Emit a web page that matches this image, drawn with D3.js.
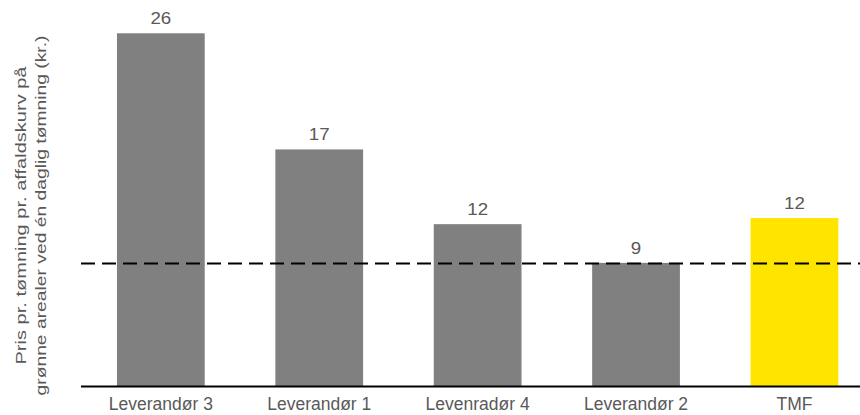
<!DOCTYPE html>
<html>
<head>
<meta charset="utf-8">
<script src="https://cdn.jsdelivr.net/npm/d3@7"></script>
<style>
  html, body { margin: 0; padding: 0; background: #fff; }
  svg { display: block; font-family: "Liberation Sans", Arial, sans-serif; }
</style>
</head>
<body>
<svg id="chart" width="860" height="415"></svg>
<script>
// ---- data ----
const categories = ["Leverandør 3", "Leverandør 1", "Levenradør 4", "Leverandør 2", "TMF"];
const values = [26, 17.45, 11.95, 9.1, 12.4];
const highlight = ["TMF"];
const benchmark = 9.05;
const yTitleLines = ["Pris pr. tømning pr. affaldskurv på", "grønne arealer ved én daglig tømning (kr.)"];

// ---- layout ----
const W = 860, H = 415;
const baseY = 386.5;
const left = 81;
const svg = d3.select("#chart");

const x = d3.scaleBand()
  .domain(categories)
  .range([left, left + 158.4 * 5.008])
  .paddingInner(0.446)
  .paddingOuter(0.227);

const y = d3.scaleLinear()
  .domain([0, 28])
  .range([baseY, baseY - 28 * 13.585]);

const data = categories.map((c, i) => ({ c, v: values[i] }));

// bars
svg.append("g").selectAll("rect").data(data).enter().append("rect")
  .attr("x", d => x(d.c))
  .attr("width", x.bandwidth())
  .attr("y", d => y(d.v))
  .attr("height", d => y(0) - y(d.v))
  .attr("fill", d => highlight.includes(d.c) ? "#ffe400" : "#808080");

// value labels
const fmt = d3.format(".0f");
svg.append("g").selectAll("text").data(data).enter().append("text")
  .attr("transform", d => `translate(${x(d.c) + x.bandwidth() / 2},${y(d.v) - 9}) scale(1.1,1)`)
  .attr("text-anchor", "middle")
  .attr("font-size", 17)
  .attr("fill", "#595959")
  .text(d => fmt(d.v));

// benchmark dashed line
svg.append("line")
  .attr("x1", left).attr("x2", W)
  .attr("y1", y(benchmark)).attr("y2", y(benchmark))
  .attr("stroke", "#000")
  .attr("stroke-width", 2)
  .attr("stroke-dasharray", "14,7");

// x axis
const xAxis = d3.axisBottom(x).tickSize(0).tickPadding(11);
const gx = svg.append("g").attr("transform", `translate(0,${baseY})`).call(xAxis);
gx.select(".domain").remove();
gx.selectAll("text")
  .attr("font-size", 17.5)
  .attr("font-family", "Liberation Sans, Arial, sans-serif")
  .attr("fill", "#595959")
  .attr("dy", "0.71em");
svg.append("line")
  .attr("x1", left).attr("x2", W)
  .attr("y1", baseY).attr("y2", baseY)
  .attr("stroke", "#000").attr("stroke-width", 2);

// y title
const cy = 215.5;
const lens = [298, 360];
const xs = [26, 46];
yTitleLines.forEach((t, i) => {
  svg.append("text")
    .attr("transform", `translate(${xs[i]},${cy}) rotate(-90)`)
    .attr("text-anchor", "middle")
    .attr("font-size", 15)
    .attr("fill", "#595959")
    .attr("textLength", lens[i])
    .attr("lengthAdjust", "spacingAndGlyphs")
    .text(t);
});
</script>
</body>
</html>
